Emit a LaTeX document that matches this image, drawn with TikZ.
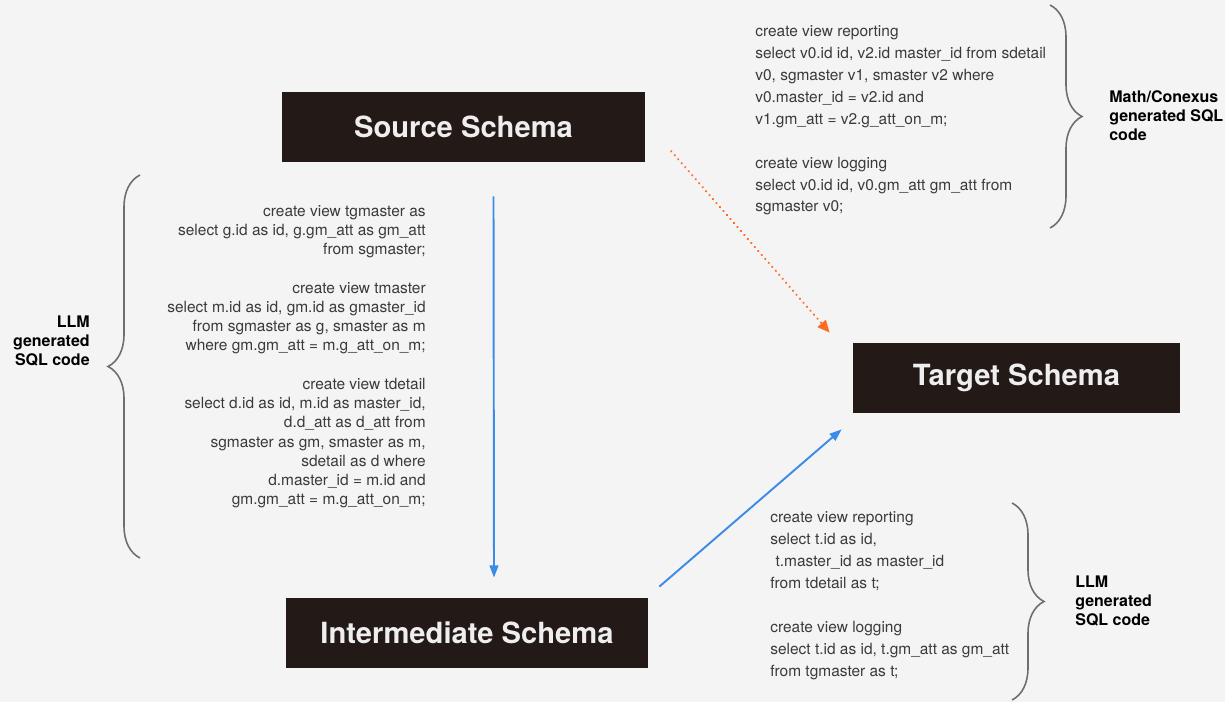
\documentclass[tikz,border=0pt]{standalone}
\usepackage{fontspec}
\setmainfont{TeX Gyre Heros}
\usetikzlibrary{positioning,calc,arrows.meta,decorations.pathreplacing}

\definecolor{bgcol}{HTML}{F4F4F4}
\definecolor{boxcol}{HTML}{231917}
\definecolor{boxtext}{HTML}{EEEEEE}
\definecolor{codecol}{HTML}{3A3A3A}
\definecolor{bracecol}{HTML}{6E6E6E}
\definecolor{flowblue}{HTML}{3C8CE7}
\definecolor{floworange}{HTML}{FF6B1F}

\begin{document}
\begin{tikzpicture}[x=0.02cm, y=-0.02cm, >={Triangle[length=7pt,width=5pt]},
  schema/.style={fill=boxcol, text=boxtext, minimum height=1.4cm, inner sep=0pt,
    font=\bfseries\fontsize{16.6}{20}\selectfont},
  sql/.style={text=codecol, inner sep=0pt, font=\fontsize{8.8}{12.5}\selectfont},
  sql tight/.style={sql, font=\fontsize{8.8}{10.95}\selectfont},
  tag/.style={text=black, inner sep=0pt, font=\bfseries\fontsize{9.1}{10.8}\selectfont},
  bracket/.style={draw=bracecol, line width=0.9pt, decorate,
    decoration={brace, amplitude=0.64cm}},
  flow/.style={->, draw=flowblue, line width=1.1pt},
  derived/.style={-{Triangle[length=7pt,width=6pt]}, draw=floworange, line width=1.4pt,
    line cap=round, dash pattern=on 0.01pt off 3pt}]

\fill[bgcol] (0,0) rectangle (1225,702);
\useasboundingbox (0,0) rectangle (1225,702);

% schemas
\node [schema, minimum width=7.26cm] (src) at (463.5,127) {Source Schema};
\node [schema, minimum width=7.24cm] (inter) at (467,633) {Intermediate Schema};
\node [schema, minimum width=6.54cm] (tgt) at (1016.5,378) {Target Schema};

% arrows
\draw [flow] ($(src.south)+(30,34)$) -- ($(inter.north)+(27,-20)$);
\draw [flow] ($(inter.north east)+(11,-11)$) -- ($(tgt.south west)+(-11,16)$);
\draw [derived] ($(src.south east)+(26,-11)$) -- ($(tgt.north west)+(-23,-10)$);

% generated code
\node [sql, align=left, anchor=north west] (code-top) at (755,25)
  {create view reporting\\
   select v0.id id, v2.id master\_id from sdetail\\
   v0, sgmaster v1, smaster v2 where\\
   v0.master\_id = v2.id and\\
   v1.gm\_att = v2.g\_att\_on\_m;\\[12.5pt]
   create view logging\\
   select v0.id id, v0.gm\_att gm\_att from\\
   sgmaster v0;};

\node [sql tight, align=right, anchor=north east] (code-left) at (426,205)
  {create view tgmaster as\\
   select g.id as id, g.gm\_att as gm\_att\\
   from sgmaster;\\[10.95pt]
   create view tmaster\\
   select m.id as id, gm.id as gmaster\_id\\
   from sgmaster as g, smaster as m\\
   where gm.gm\_att = m.g\_att\_on\_m;\\[10.95pt]
   create view tdetail\\
   select d.id as id, m.id as master\_id,\\
   d.d\_att as d\_att from\\
   sgmaster as gm, smaster as m,\\
   sdetail as d where\\
   d.master\_id = m.id and\\
   gm.gm\_att = m.g\_att\_on\_m;};

\node [sql, align=left, anchor=north west] (code-bottom) at (770,511)
  {create view reporting\\
   select t.id as id,\\
   \hspace{3pt}t.master\_id as master\_id\\
   from tdetail as t;\\[12.6pt]
   create view logging\\
   select t.id as id, t.gm\_att as gm\_att\\
   from tgmaster as t;};

% braces and their tags
\draw [bracket] (140,558) -- (140,175);
\draw [bracket] (1050,5) -- (1050,228);
\draw [bracket] (1012,503) -- (1012,700);

\node [tag, align=right, anchor=east] (tag-left) at (90,341) {LLM\\generated\\SQL code};
\node [tag, align=left, anchor=west] (tag-top) at (1109,115.5) {Math/Conexus\\generated SQL\\code};
\node [tag, align=left, anchor=west] (tag-bottom) at (1075,601) {LLM\\generated\\SQL code};

\end{tikzpicture}
\end{document}
